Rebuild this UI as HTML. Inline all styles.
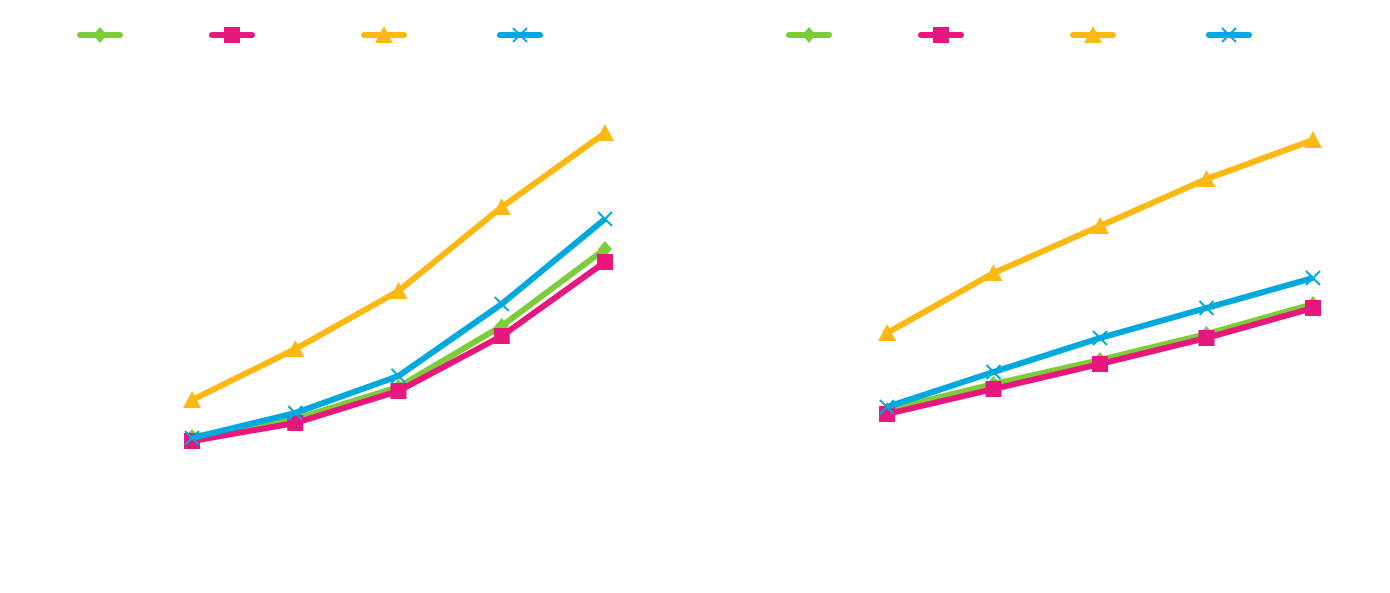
<!DOCTYPE html>
<html><head><meta charset="utf-8"><style>
html,body{margin:0;padding:0;background:#fff;width:1390px;height:593px;overflow:hidden;font-family:"Liberation Sans",sans-serif}
</style></head><body>
<svg id="chart" width="1390" height="593" xmlns="http://www.w3.org/2000/svg"></svg>
<script>
const categories = [1, 2, 3, 4, 5];
const seriesNames = ["series-green", "series-pink", "series-yellow", "series-blue"];
const leftGreen = [63, 81, 113, 174, 251];
const leftPink = [59, 77, 109, 164, 238];
const leftYellow = [100, 151, 209, 293, 367];
const leftBlue = [62, 87, 124, 196, 281];
const rightGreen = [90, 116, 140, 166, 196];
const rightPink = [86, 111, 136, 162, 192];
const rightYellow = [167, 227, 274, 321, 360];
const rightBlue = [93, 128, 162, 192, 222];

const colors = ["#7dcc3a", "#e8177d", "#fdb913", "#00a9dd"];
const markers = ["diamond", "square", "triangle", "x"];
const svg = document.getElementById('chart');
const NS = "http://www.w3.org/2000/svg";
function yScale(v){ return 500 - v; }
function mk(tag, attrs){ const e = document.createElementNS(NS, tag); for (const k in attrs) e.setAttribute(k, attrs[k]); svg.appendChild(e); return e; }
function marker(type, x, y, color){
  let e;
  if (type === "diamond") e = mk("polygon", {points:`${x},${y-8} ${x+7},${y} ${x},${y+8} ${x-7},${y}`, fill:color});
  else if (type === "square") e = mk("rect", {x:x-8, y:y-8, width:16, height:16, fill:color});
  else if (type === "triangle") e = mk("polygon", {points:`${x},${y-9} ${x+9},${y+8} ${x-9},${y+8}`, fill:color});
  else e = mk("path", {d:`M${x-7},${y-7}L${x+7},${y+7}M${x+7},${y-7}L${x-7},${y+7}`, stroke:color, "stroke-width":2, fill:"none"});
  return e;
}
function drawPanel(panel, xs, data, legendX){
  data.forEach((vals, si) => {
    const pts = vals.map((v,i)=>`${xs(categories[i])},${yScale(v)}`).join(" ");
    const line = mk("polyline", {points:pts, fill:"none", stroke:colors[si], "stroke-width":6, "stroke-linejoin":"round"});
    
    
    vals.forEach((v,i)=>{
      const m = marker(markers[si], xs(categories[i]), yScale(v), colors[si]);
      
      
    });
    const lx = legendX[si];
    const ll = mk("line", {x1:lx, y1:35, x2:lx+40, y2:35, stroke:colors[si], "stroke-width":6, "stroke-linecap":"round"});
    
    
    const lm = marker(markers[si], lx+20, 35, colors[si]);
    
    
  });
}
const xLeft = c => 192 + (c-1) * 103.25;
const xRight = c => 887 + (c-1) * 106.5;
drawPanel("left", xLeft, [leftGreen, leftPink, leftYellow, leftBlue], [80, 212, 364, 500]);
drawPanel("right", xRight, [rightGreen, rightPink, rightYellow, rightBlue], [789, 921, 1073, 1209]);
</script>
</body></html>
